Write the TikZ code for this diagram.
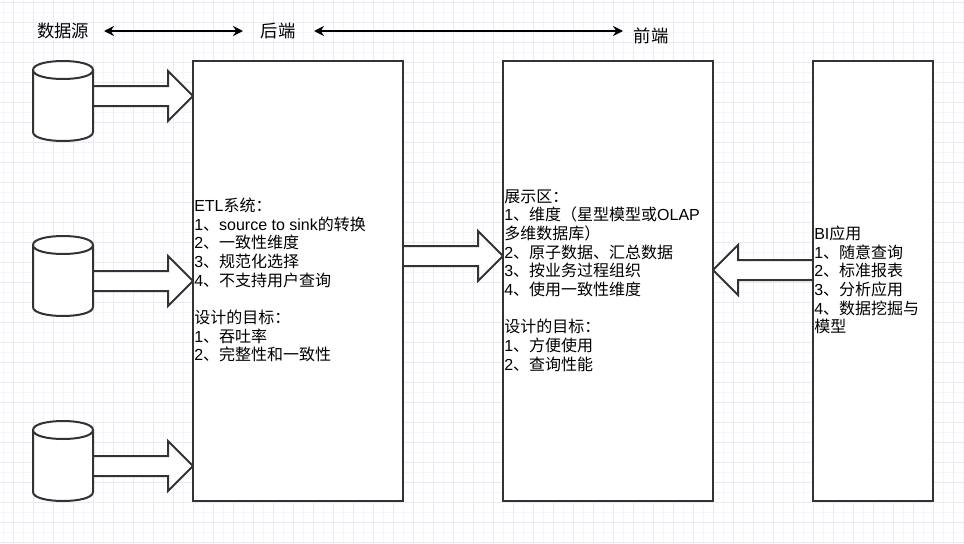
\documentclass[tikz,border=0pt]{standalone}
\usepackage{fontspec}
\setmainfont{Liberation Sans}
\newfontfamily\cjk{Noto Sans CJK SC}
\newcommand{\zh}[1]{{\cjk #1}}
\usetikzlibrary{calc,arrows.meta}
\definecolor{gridminor}{RGB}{245,245,252}
\definecolor{gridmajor}{RGB}{234,234,247}
\definecolor{edge}{RGB}{51,51,51}
\tikzset{
  panel/.style={draw=edge,line width=1.5pt,fill=white,anchor=north west,minimum width=#1*0.75pt,minimum height=330pt,inner sep=0pt,outer sep=0pt},
  body/.style={anchor=west,align=left,inner sep=0pt,font=\fontsize{12}{14}\selectfont},
  head/.style={inner sep=0pt,font=\fontsize{13}{15}\selectfont},
  span/.style={{Stealth[length=7.5pt,width=7.5pt]}-{Stealth[length=7.5pt,width=7.5pt]},line width=1.3pt,black},
  fat/.style={draw=edge,line width=1.5pt,fill=white,line join=miter},
  store/.pic={
    \draw[fat] (-30,-31) .. controls (-30,-43) and (30,-43) .. (30,-31)
      -- (30,31) .. controls (30,43) and (-30,43) .. (-30,31) -- cycle;
    \draw[fat] (-30,-31) .. controls (-30,-19) and (30,-19) .. (30,-31);
  }
}
% block arrow from one named point to another, level
\newcommand{\fatarrow}[2]{
  \draw[fat] let \p1=(#1),\p2=(#2),\n1={sign(\x2-\x1)*18.75pt} in
    (\x1,\y1+7.5pt) -- (\x2-\n1,\y1+7.5pt) -- (\x2-\n1,\y1+18.75pt) -- (\x2,\y1)
    -- (\x2-\n1,\y1-18.75pt) -- (\x2-\n1,\y1-7.5pt) -- (\x1,\y1-7.5pt);
}
\begin{document}
\begin{tikzpicture}[x=0.75pt,y=-0.75pt]
\useasboundingbox (0,0) rectangle (964,543);
\fill[white] (0,0) rectangle (964,543);
\foreach \x in {3,23,...,963}{\draw[gridminor,line width=0.6pt] (\x,0) -- (\x,543);}
\foreach \y in {12,32,...,532}{\draw[gridminor,line width=0.6pt] (0,\y) -- (964,\y);}
\foreach \x in {13,33,...,953}{\draw[gridmajor,line width=0.7pt] (\x,0) -- (\x,543);}
\foreach \y in {2,22,...,542}{\draw[gridmajor,line width=0.7pt] (0,\y) -- (964,\y);}

% top labels
\node[head] (source) at (63,31) {\zh{数据源}};
\node[head] (back) at (278,31) {\zh{后端}};
\node[head] (front) at (651,36) {\zh{前端}};
\coordinate (s1) at (104,31);
\coordinate (s2) at (243,31);
\coordinate (s3) at (314,31);
\coordinate (s4) at (623,31);
\draw[span] (s1) -- (s2);
\draw[span] (s3) -- (s4);

% block arrows go under the boxes
\foreach \k/\h in {1/96,2/281,3/466}{
  \coordinate (out\k) at (93,\h);
  \coordinate (in\k) at (193,\h);
  \edef\a{out\k}\edef\b{in\k}
  \fatarrow{\a}{\b}
}
\coordinate (mid1) at (403,256);
\coordinate (mid2) at (503,256);
\fatarrow{mid1}{mid2}
\coordinate (ret1) at (813,270);
\coordinate (ret2) at (713,270);
\fatarrow{ret1}{ret2}

% sources
\foreach \k/\h in {1/101,2/276,3/461}{
  \pic (db\k) at (63,\h) {store};
}

% boxes
\node[panel=210] (etl) at (193,61) {};
\node[panel=210] (mart) at (503,61) {};
\node[panel=120] (bi) at (813,61) {};

\node[body] (etltext) at (194,280) {ETL\zh{系统：}\\
1\zh{、}source to sink\zh{的转换}\\
2\zh{、一致性维度}\\
3\zh{、规范化选择}\\
4\zh{、不支持用户查询}\\
\mbox{}\\
\zh{设计的目标：}\\
1\zh{、吞吐率}\\
2\zh{、完整性和一致性}};

\node[body] (marttext) at (504,280.3) {\zh{展示区：}\\
1\zh{、维度（星型模型或}OLAP\\
\zh{多维数据库）}\\
2\zh{、原子数据、汇总数据}\\
3\zh{、按业务过程组织}\\
4\zh{、使用一致性维度}\\
\mbox{}\\
\zh{设计的目标：}\\
1\zh{、方便使用}\\
2\zh{、查询性能}};

\node[body] (bitext) at (814,280) {BI\zh{应用}\\
1\zh{、随意查询}\\
2\zh{、标准报表}\\
3\zh{、分析应用}\\
4\zh{、数据挖掘与}\\
\zh{模型}};
\end{tikzpicture}
\end{document}
